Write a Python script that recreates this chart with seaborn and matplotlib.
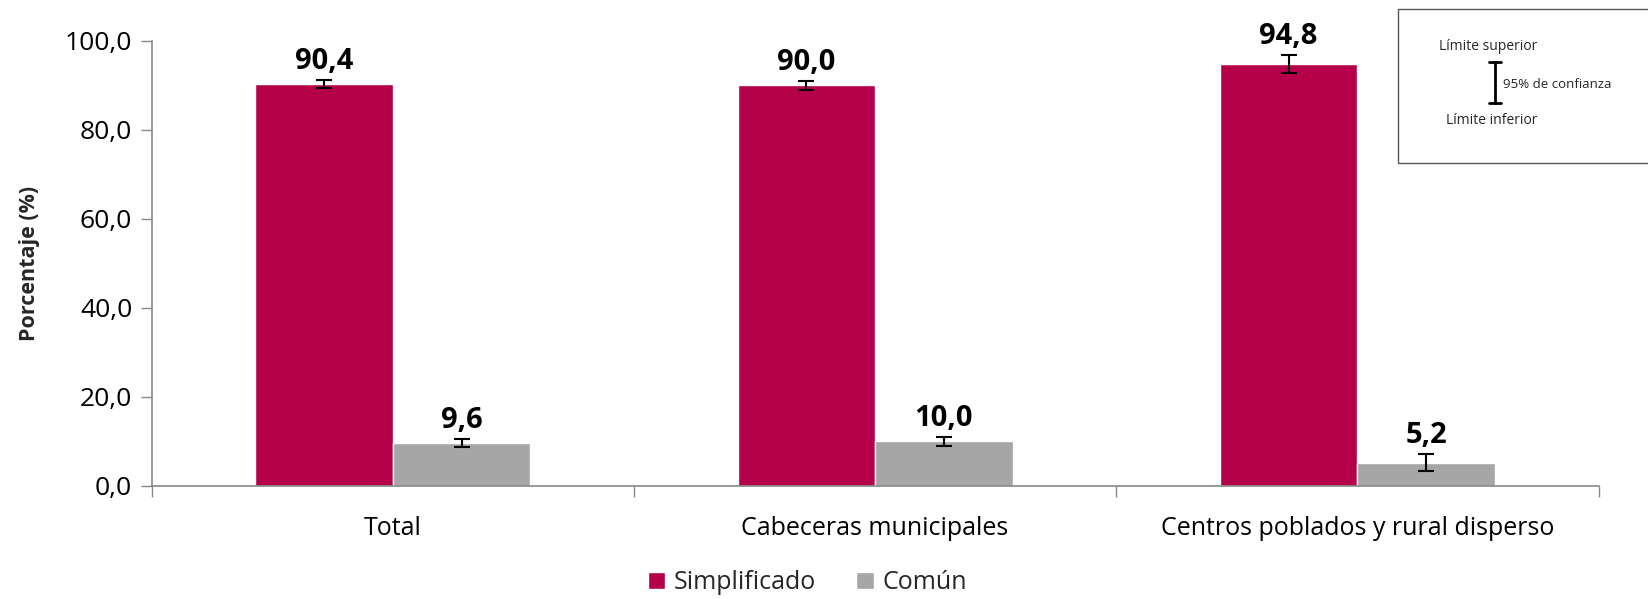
import matplotlib
matplotlib.use("Agg")
import matplotlib.pyplot as plt
import seaborn as sns
import pandas as pd
import numpy as np
from matplotlib.ticker import FuncFormatter, FixedLocator
from matplotlib.patches import Rectangle
from matplotlib.lines import Line2D

categories = ["Total", "Cabeceras municipales", "Centros poblados y rural disperso"]
series = ["Simplificado", "Común"]
simplificado = [90.4, 90.0, 94.8]
comun = [9.6, 10.0, 5.2]
err_simplificado = [0.9, 1.0, 2.0]
err_comun = [0.9, 1.0, 1.9]
colors = ["#B5004A", "#A6A6A6"]

sns.set_theme(style="white")
plt.rcParams["font.family"] = ["Open Sans", "DejaVu Sans"]

df = pd.DataFrame({
    "Categoría": categories * 2,
    "Tipo": [series[0]] * 3 + [series[1]] * 3,
    "Valor": simplificado + comun,
    "Err": err_simplificado + err_comun,
})

fig = plt.figure(figsize=(16.48, 5.99), dpi=100)
ax = fig.add_axes([0.092, 0.189, 0.878, 0.7426])

sns.barplot(data=df, x="Categoría", y="Valor", hue="Tipo", palette=colors,
            order=categories, hue_order=series, width=0.57, errorbar=None,
            saturation=1, ax=ax, legend=True)

errs = [err_simplificado, err_comun]
for container, err in zip(ax.containers, errs):
    for patch, e in zip(container.patches, err):
        xc = patch.get_x() + patch.get_width() / 2
        h = patch.get_height()
        ax.errorbar(xc, h, yerr=e, fmt="none", ecolor="black", elinewidth=1.5,
                    capsize=6, capthick=1.5, zorder=5)
        ax.annotate(f"{h:.1f}".replace(".", ","), (xc, h + e), xytext=(0, 3),
                    textcoords="offset points", ha="center", va="bottom",
                    fontsize=21, fontweight="bold", color="black")

ax.set_ylim(0, 100)
ax.set_xlim(-0.5, 2.5)
ax.yaxis.set_major_locator(FixedLocator([0, 20, 40, 60, 80, 100]))
ax.yaxis.set_major_formatter(FuncFormatter(lambda v, p: f"{v:.1f}".replace(".", ",")))
ax.xaxis.set_minor_locator(FixedLocator([-0.5, 0.5, 1.5, 2.5]))
ax.tick_params(axis="x", which="major", length=0, labelsize=18, pad=22, colors="black")
ax.tick_params(axis="x", which="minor", length=8, width=1, color="#888888", direction="out", bottom=True)
ax.tick_params(axis="y", which="major", length=8, width=1, color="#888888", direction="out",
               labelsize=19, pad=6, left=True, labelcolor="black")
for s in ["top", "right"]:
    ax.spines[s].set_visible(False)
for s in ["left", "bottom"]:
    ax.spines[s].set_color("#888888")
    ax.spines[s].set_linewidth(1.2)
ax.set_xlabel("")
ax.set_ylabel("Porcentaje (%)", fontsize=15.5, fontweight="bold", labelpad=18)

leg = ax.legend(loc="center", bbox_to_anchor=(0.49, 0.027), bbox_transform=fig.transFigure,
                ncol=2, frameon=False, fontsize=18, handlelength=0.7, handleheight=0.7,
                handletextpad=0.35, columnspacing=1.6)

# Confidence interval key box
fig.patches.append(Rectangle((1398 / 1648, 1 - 163 / 599), 0.2, (163 - 9) / 599,
                             transform=fig.transFigure, fill=False, edgecolor="#555555",
                             linewidth=1.0, clip_on=False))
xb = 1495 / 1648
y1, y2 = 1 - 62 / 599, 1 - 103 / 599
cap = 6 / 1648
fig.lines.extend([
    Line2D([xb, xb], [y1, y2], transform=fig.transFigure, color="black", linewidth=2),
    Line2D([xb - cap, xb + cap], [y1, y1], transform=fig.transFigure, color="black", linewidth=2),
    Line2D([xb - cap, xb + cap], [y2, y2], transform=fig.transFigure, color="black", linewidth=2),
])
fig.text(1488 / 1648, 1 - 46 / 599, "Límite superior", ha="center", va="center", fontsize=10)
fig.text(1503 / 1648, 1 - 84 / 599, "95% de confianza", ha="left", va="center", fontsize=9.5)
fig.text(1492 / 1648, 1 - 120 / 599, "Límite inferior", ha="center", va="center", fontsize=10)

fig.savefig("out.png", dpi=100)
